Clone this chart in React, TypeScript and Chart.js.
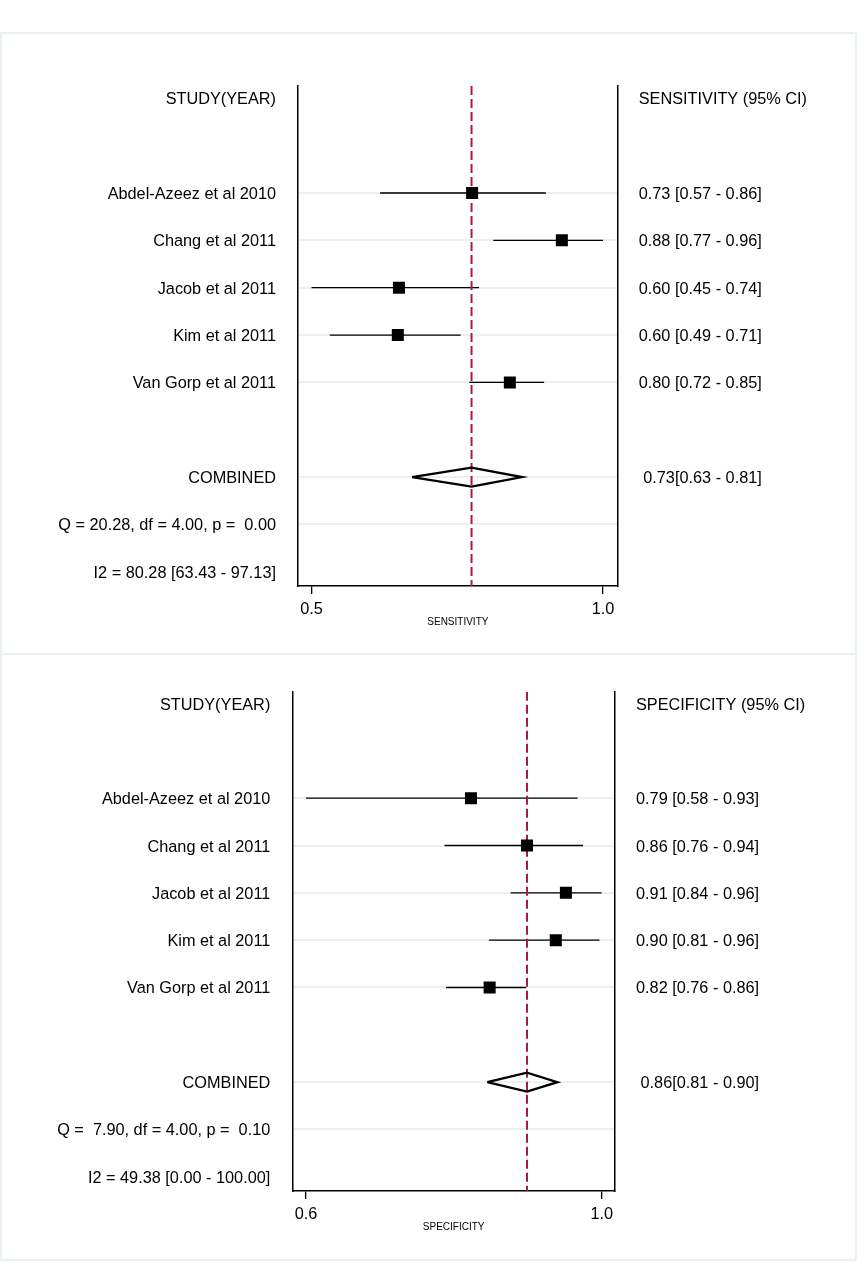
import React, { useEffect, useRef } from "react";
import { Chart, registerables } from "chart.js";

Chart.register(...registerables);

const FONT = '"Liberation Sans", Arial, Helvetica, sans-serif';

// ---- shared row layout (row 0 header, 2-6 studies, 8 combined, 9 Q, 10 I2)
const studies = [
  "Abdel-Azeez et al 2010",
  "Chang et al 2011",
  "Jacob et al 2011",
  "Kim et al 2011",
  "Van Gorp et al 2011",
];
const studyRows = [2, 3, 4, 5, 6];
const combinedRow = 8;
const rowIndices = [0, 1, 2, 3, 4, 5, 6, 7, 8, 9, 10];
const gridRows = [2, 3, 4, 5, 6, 8, 9];

// ---- sensitivity
const sensEst = [0.731, 0.888, 0.603, 0.601, 0.797];
const sensLow = [0.57, 0.768, 0.45, 0.482, 0.726];
const sensHigh = [0.86, 0.96, 0.743, 0.711, 0.857];
const sensCombined = [0.73, 0.626, 0.818]; // estimate, lower, upper
const sensCiText = [
  "0.73 [0.57 - 0.86]",
  "0.88 [0.77 - 0.96]",
  "0.60 [0.45 - 0.74]",
  "0.60 [0.49 - 0.71]",
  "0.80 [0.72 - 0.85]",
];
const sensCombinedText = " 0.73[0.63 - 0.81]";
const sensQText = "Q = 20.28, df = 4.00, p =  0.00";
const sensI2Text = "I2 = 80.28 [63.43 - 97.13]";
const sensTickValues = [0.45, 0.96];
const sensTickLabels = ["0.5", "1.0"];

// ---- specificity
const specEst = [0.792, 0.864, 0.914, 0.901, 0.816];
const specLow = [0.58, 0.758, 0.843, 0.815, 0.76];
const specHigh = [0.929, 0.936, 0.96, 0.957, 0.863];
const specCombined = [0.864, 0.813, 0.903];
const specCiText = [
  "0.79 [0.58 - 0.93]",
  "0.86 [0.76 - 0.94]",
  "0.91 [0.84 - 0.96]",
  "0.90 [0.81 - 0.96]",
  "0.82 [0.76 - 0.86]",
];
const specCombinedText = " 0.86[0.81 - 0.90]";
const specQText = "Q =  7.90, df = 4.00, p =  0.10";
const specI2Text = "I2 = 49.38 [0.00 - 100.00]";
const specTickValues = [0.58, 0.96];
const specTickLabels = ["0.6", "1.0"];

type PanelProps = {
  est: number[];
  low: number[];
  high: number[];
  combined: number[];
  ciText: string[];
  combinedText: string;
  qText: string;
  i2Text: string;
  rightHeader: string;
  tickValues: number[];
  tickLabels: string[];
  title: string;
  xMin: number;
  xMax: number;
  yMin: number;
  yMax: number;
  top: number;
  height: number;
  chartLeft: number;
  chartRight: number;
  chartTop: number;
  chartBottom: number;
};

const W = 857;
const LABEL_SIZE = 16.3;

function Panel(p: PanelProps) {
  const ref = useRef<HTMLCanvasElement | null>(null);
  useEffect(() => {
    if (!ref.current) return;
    const leftLabels = [
      "STUDY(YEAR)",
      "",
      ...studies,
      "",
      "COMBINED",
      p.qText,
      p.i2Text,
    ];
    const rightLabels = [
      p.rightHeader,
      "",
      ...p.ciText,
      "",
      p.combinedText,
      "",
      "",
    ];
    const h = 0.2;
    const [cEst, cLow, cHigh] = p.combined;
    const ciData: { x: number; y: number }[] = [];
    studies.forEach((_, i) => {
      ciData.push({ x: p.low[i], y: studyRows[i] });
      ciData.push({ x: p.high[i], y: studyRows[i] });
      ciData.push({ x: NaN, y: NaN });
    });
    const xAxisH = 42;
    const chart = new Chart(ref.current, {
      type: "scatter",
      data: {
        datasets: [
          {
            data: studies.map((_, i) => ({ x: p.est[i], y: studyRows[i] })),
            pointStyle: "rect",
            pointRadius: 8.5,
            backgroundColor: "#000",
            borderWidth: 0,
            order: 0,
          } as any,
          {
            data: [
              { x: cLow, y: combinedRow },
              { x: cEst, y: combinedRow - h },
              { x: cHigh, y: combinedRow },
              { x: cEst, y: combinedRow + h },
              { x: cLow, y: combinedRow },
            ],
            showLine: true,
            pointRadius: 0,
            borderColor: "#000",
            borderWidth: 2.4,
            borderJoinStyle: "miter",
            fill: false,
            order: 1,
          } as any,
          {
            data: [
              { x: cEst, y: p.yMin },
              { x: cEst, y: p.yMax },
            ],
            showLine: true,
            pointRadius: 0,
            borderColor: "#a51c43",
            borderWidth: 2,
            borderDash: [9, 4],
            fill: false,
            order: 2,
          } as any,
          {
            data: ciData,
            showLine: true,
            spanGaps: false,
            pointRadius: 0,
            borderColor: "#000",
            borderWidth: 1.3,
            fill: false,
            order: 3,
          } as any,
        ],
      },
      options: {
        responsive: false,
        animation: false,
        events: [],
        layout: {
          padding: {
            left: 0,
            right: 0,
            top: p.chartTop,
            bottom: p.height - p.chartBottom - xAxisH,
          },
        },
        plugins: {
          legend: { display: false },
          tooltip: { enabled: false },
        },
        scales: {
          x: {
            type: "linear",
            position: "bottom",
            min: p.xMin,
            max: p.xMax,
            afterBuildTicks: (s: any) => {
              s.ticks = p.tickValues.map((v) => ({ value: v }));
            },
            afterFit: (s: any) => {
              s.height = xAxisH;
            },
            ticks: {
              autoSkip: false,
              maxRotation: 0,
              padding: 6,
              color: "#000",
              font: { family: FONT, size: LABEL_SIZE },
              callback: (_v: any, i: number) => p.tickLabels[i],
            },
            grid: {
              drawOnChartArea: false,
              drawTicks: true,
              tickLength: 8,
              color: "#000",
              lineWidth: 1.3,
            },
            border: { display: true, color: "#000", width: 1.5 },
            title: {
              display: true,
              text: p.title,
              color: "#000",
              font: { family: FONT, size: 10 },
              padding: 0,
            },
          },
          y: {
            type: "linear",
            position: "left",
            reverse: true,
            min: p.yMin,
            max: p.yMax,
            afterBuildTicks: (s: any) => {
              s.ticks = rowIndices.map((v) => ({ value: v }));
            },
            afterFit: (s: any) => {
              s.width = p.chartLeft;
            },
            ticks: {
              autoSkip: false,
              padding: 22,
              labelOffset: 1.5,
              color: "#000",
              font: { family: FONT, size: LABEL_SIZE },
              callback: (v: any) => leftLabels[v as number] ?? "",
            },
            grid: {
              drawTicks: false,
              lineWidth: 2,
              color: (ctx: any) =>
                ctx.tick && gridRows.includes(ctx.tick.value)
                  ? "#e8f0f0"
                  : "rgba(0,0,0,0)",
            },
            border: { display: true, color: "#000", width: 1.5 },
          },
          y2: {
            type: "linear",
            position: "right",
            reverse: true,
            min: p.yMin,
            max: p.yMax,
            afterBuildTicks: (s: any) => {
              s.ticks = rowIndices.map((v) => ({ value: v }));
            },
            afterFit: (s: any) => {
              s.width = W - p.chartRight;
            },
            ticks: {
              autoSkip: false,
              padding: 21,
              labelOffset: 1.5,
              color: "#000",
              font: { family: FONT, size: LABEL_SIZE },
              callback: (v: any) => rightLabels[v as number] ?? "",
            },
            grid: { display: false, drawTicks: false },
            border: { display: true, color: "#000", width: 1.5 },
          },
        },
      } as any,
    });
    return () => chart.destroy();
  }, []);
  return (
    <canvas
      ref={ref}
      width={W}
      height={p.height}
      style={{
        position: "absolute",
        left: 0,
        top: p.top,
        width: W,
        height: p.height,
        display: "block",
      }}
    />
  );
}

export default function App() {
  return (
    <div
      style={{
        position: "absolute",
        left: 0,
        top: 0,
        width: W,
        height: 1276,
        background: "#fff",
        overflow: "hidden",
      }}
    >
      <div
        style={{
          position: "absolute",
          left: 0,
          top: 32,
          width: W,
          height: 1229,
          boxSizing: "border-box",
          border: "2px solid #e8f0f0",
        }}
      />
      <div
        style={{
          position: "absolute",
          left: 0,
          top: 653,
          width: W,
          height: 2,
          background: "#e8f0f0",
        }}
      />
      <Panel
        est={sensEst}
        low={sensLow}
        high={sensHigh}
        combined={sensCombined}
        ciText={sensCiText}
        combinedText={sensCombinedText}
        qText={sensQText}
        i2Text={sensI2Text}
        rightHeader="SENSITIVITY (95% CI)"
        tickValues={sensTickValues}
        tickLabels={sensTickLabels}
        title="SENSITIVITY"
        xMin={0.4264}
        xMax={0.9857}
        yMin={-0.26}
        yMax={10.3}
        top={33}
        height={621}
        chartLeft={298}
        chartRight={617.7}
        chartTop={53}
        chartBottom={553}
      />
      <Panel
        est={specEst}
        low={specLow}
        high={specHigh}
        combined={specCombined}
        ciText={specCiText}
        combinedText={specCombinedText}
        qText={specQText}
        i2Text={specI2Text}
        rightHeader="SPECIFICITY (95% CI)"
        tickValues={specTickValues}
        tickLabels={specTickLabels}
        title="SPECIFICITY"
        xMin={0.5624}
        xMax={0.9771}
        yMin={-0.25}
        yMax={10.3}
        top={654}
        height={605}
        chartLeft={292.3}
        chartRight={615}
        chartTop={37.7}
        chartBottom={537}
      />
    </div>
  );
}
